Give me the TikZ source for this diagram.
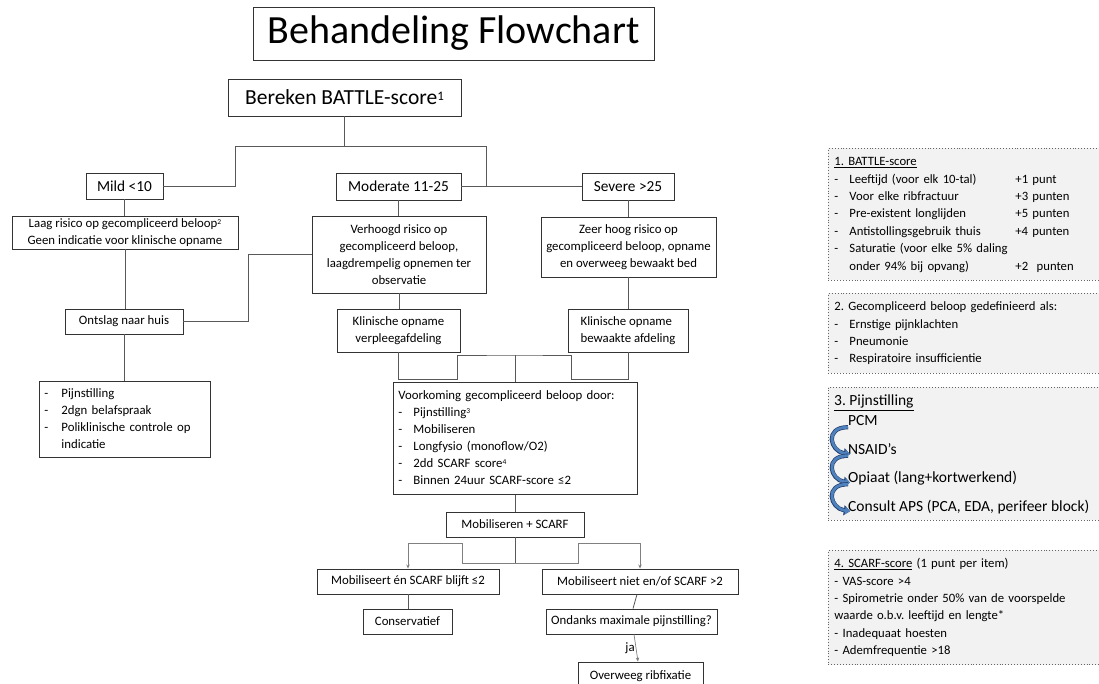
\documentclass[tikz,border=0pt]{standalone}
\usepackage{fontspec}
\setmainfont{Carlito}
\usetikzlibrary{arrows.meta,calc}
\frenchspacing

\definecolor{painblue}{RGB}{79,129,189}
\definecolor{painedge}{RGB}{35,62,110}

\newcommand{\dashitem}[2][15pt]{\makebox[#1][l]{-}#2}
\newcommand{\pointsitem}[2]{\dashitem{\makebox[166pt][l]{#1}#2}}
\newcommand{\notenr}[1]{\raisebox{2.8pt}{\fontsize{7.5}{8}\selectfont#1}}

\begin{document}
\begin{tikzpicture}
    [x=1pt, y=-1pt,
    flowbox/.style={draw=black!80, line width=0.9pt, fill=white, inner sep=0pt, align=center,
        font=\fontsize{12.8}{17}\selectfont},
    bigbox/.style={flowbox, font=\fontsize{15.3}{18}\selectfont},
    listbox/.style={flowbox, anchor=north west, inner xsep=5pt, inner ysep=4pt, align=left},
    legendbox/.style={draw=black!60, dotted, line width=0.9pt, fill=black!5, anchor=north west,
        inner xsep=6pt, inner ysep=5pt, text width=265pt, align=left,
        font=\fontsize{12.7}{17.4}\selectfont},
    painitem/.style={anchor=base west, inner sep=0pt, font=\fontsize{15.5}{19}\selectfont},
    conn/.style={draw=black!65, line width=0.8pt},
    arrconn/.style={draw=black!50, line width=0.7pt, -{Stealth[length=4pt,width=3.5pt]}},
    painarrow/.style={draw=painblue, line width=2.8pt, -{Triangle[length=5pt,width=8pt]},
        preaction={draw=painedge, line width=4.2pt, -{Triangle[length=6.2pt,width=10pt]}}}
    ]
    \clip (0,0) rectangle (1099,684);
    \fill[white] (0,0) rectangle (1099,684);

    % title and score
    \node[flowbox, minimum width=401pt, minimum height=53pt, font=\fontsize{40}{44}\selectfont]
        (title) at (453.5,33.5) {Behandeling Flowchart};
    \node[flowbox, minimum width=233pt, minimum height=37pt, font=\fontsize{21.5}{24}\selectfont]
        (bereken) at (344.5,97.5) {Bereken BATTLE-score{\fontsize{13}{14}\selectfont\raisebox{4pt}{1}}};

    % three groups
    \node[bigbox, minimum width=77pt, minimum height=26pt] (mild) at (124.5,186) {Mild <10};
    \node[bigbox, minimum width=125pt, minimum height=27pt] (moderate) at (398.5,186.5) {Moderate 11-25};
    \node[bigbox, minimum width=92pt, minimum height=27pt] (severe) at (628,186.5) {Severe >25};

    \node[flowbox, minimum width=226pt, minimum height=33pt] (laag) at (125,232.5)
        {Laag risico op gecompliceerd beloop\notenr{2}\\Geen indicatie voor klinische opname};
    \node[flowbox, minimum width=174pt, minimum height=77pt] (verhoogd) at (399,254.5)
        {Verhoogd risico op\\gecompliceerd beloop,\\laagdrempelig opnemen ter\\observatie};
    \node[flowbox, minimum width=175pt, minimum height=60pt] (zeerhoog) at (628.5,247)
        {Zeer hoog risico op\\gecompliceerd beloop, opname\\en overweeg bewaakt bed};

    \node[flowbox, minimum width=118pt, minimum height=25pt] (ontslag) at (124,321.5) {Ontslag naar huis};
    \node[flowbox, minimum width=123pt, minimum height=43pt] (verpleeg) at (398.5,330.5)
        {Klinische opname\\verpleegafdeling};
    \node[flowbox, minimum width=120pt, minimum height=43pt, align=left] (bewaakt) at (628,330.5)
        {Klinische opname\\bewaakte afdeling};

    \node[listbox, text width=161pt] (thuislijst) at (39,381) {\begin{tabular}{@{}l@{}}
        \dashitem[17pt]{Pijnstilling}\\
        \dashitem[17pt]{2dgn belafspraak}\\
        \dashitem[17pt]{Poliklinische controle op}\\
        \hspace*{17pt}indicatie
    \end{tabular}};
    \node[listbox, text width=234pt, inner ysep=5pt] (voorkoming) at (393,382) {\begin{tabular}{@{}l@{}}
        Voorkoming gecompliceerd beloop door:\\
        \dashitem{Pijnstilling\notenr{3}}\\
        \dashitem{Mobiliseren}\\
        \dashitem{Longfysio (monoflow/O2)}\\
        \dashitem{2dd SCARF score\notenr{4}}\\
        \dashitem{Binnen 24uur SCARF-score ≤2}
    \end{tabular}};

    \node[flowbox, minimum width=138pt, minimum height=25pt] (mobscarf) at (515,524.5) {Mobiliseren + SCARF};
    \node[flowbox, minimum width=182pt, minimum height=25pt] (okbox) at (408,581.5) {Mobiliseert én SCARF blijft ≤2};
    \node[flowbox, minimum width=196pt, minimum height=25pt] (nokbox) at (640,581.5) {Mobiliseert niet en/of SCARF >2};
    \node[flowbox, minimum width=89pt, minimum height=25pt] (conserv) at (407.5,621.5) {Conservatief};
    \node[flowbox, minimum width=171pt, minimum height=25pt] (ondanks) at (631.5,621.5) {Ondanks maximale pijnstilling?};
    \node[flowbox, minimum width=125pt, minimum height=28pt] (ribfix) at (640.5,676) {Overweeg ribfixatie};

    % connectors
    \coordinate (splitA) at (344.5,146);
    \coordinate (bendA) at (235,146);
    \coordinate (joinMS) at (486,186.5);
    \draw[conn] (bereken.south) -- (splitA) -- (bendA) |- (mild.east);
    \draw[conn] (moderate.east) -- (severe.west);
    \draw[conn] (splitA) -| (joinMS);
    \draw[conn] (mild.south) -- (mild.south |- laag.north);
    \draw[conn] (moderate.south) -- (moderate.south |- verhoogd.north);
    \draw[conn] (severe.south) -- (severe.south |- zeerhoog.north);
    \draw[conn] (laag.south) -- (laag.south |- ontslag.north);
    \draw[conn] (ontslag.east) -- ++(65,0) |- (verhoogd.west);
    \draw[conn] (ontslag.south) -- (ontslag.south |- thuislijst.north);
    \draw[conn] (verhoogd.south) -- (verhoogd.south |- verpleeg.north);
    \draw[conn] (zeerhoog.south) -- (zeerhoog.south |- bewaakt.north);

    \coordinate (kbL) at (457,379);
    \coordinate (kbR) at (571,379);
    \coordinate (ktop) at (515,355);
    \draw[conn] (verpleeg.south) |- (kbL) |- (ktop) -| (kbR) -| (bewaakt.south);
    \draw[conn] (ktop) -- (voorkoming.north -| ktop);
    \draw[conn] (voorkoming.south -| mobscarf.north) -- (mobscarf.north);

    \coordinate (msplit) at (515,563);
    \coordinate (mL) at (462,563);
    \coordinate (mR) at (578,563);
    \coordinate (mLup) at (462,543);
    \coordinate (mRup) at (578,543);
    \draw[conn] (mobscarf.south) -- (msplit);
    \draw[arrconn] (msplit) -- (mL) -- (mLup) -| (okbox.north);
    \draw[arrconn] (msplit) -- (mR) -- (mRup) -| (nokbox.north);
    \draw[conn] (okbox.south) -- (okbox.south |- conserv.north);
    \draw[conn] ([xshift=-3pt]nokbox.south) -- ([xshift=1.5pt]ondanks.north);
    \draw[arrconn] ([xshift=2.5pt]ondanks.south) -- node[left, inner sep=1pt, font=\fontsize{12.8}{15}\selectfont] {ja}
        ([xshift=-2.5pt]ribfix.north);

    % legend
    \node[legendbox] (battle) at (828,148) {\begin{tabular}{@{}l@{}}
        \underline{1. BATTLE-score}\\
        \pointsitem{Leeftijd (voor elk 10-tal)}{+1 punt}\\
        \pointsitem{Voor elke ribfractuur}{+3 punten}\\
        \pointsitem{Pre-existent longlijden}{+5 punten}\\
        \pointsitem{Antistollingsgebruik thuis}{+4 punten}\\
        \dashitem{Saturatie (voor elke 5\% daling}\\
        \hspace*{15pt}\makebox[166pt][l]{onder 94\% bij opvang)}+2~~punten
    \end{tabular}};
    \node[legendbox] (beloop) at (828,293) {\begin{tabular}{@{}l@{}}
        2. Gecompliceerd beloop gedefinieerd als:\\
        \dashitem{Ernstige pijnklachten}\\
        \dashitem{Pneumonie}\\
        \dashitem{Respiratoire insufficientie}
    \end{tabular}};
    \node[legendbox, minimum width=280pt, minimum height=133pt, text width=, inner sep=0pt] (painbox) at (828,387) {};
    \node[painitem] (paintitle) at (834,405.7) {\underline{3. Pijnstilling}};
    \node[painitem] (pcm) at (848,425.7) {PCM};
    \node[painitem] (nsaid) at (848,454.2) {NSAID’s};
    \node[painitem] (opiaat) at (848,482.7) {Opiaat (lang+kortwerkend)};
    \node[painitem] (consult) at (848,511.2) {Consult APS (PCA, EDA, perifeer block)};
    \foreach \a/\b in {pcm/nsaid, nsaid/opiaat, opiaat/consult}
        \draw[painarrow] ([shift={(0,1.5)}]\a.base west) .. controls +(-24,0) and +(-20,-3) .. ([shift={(2,0)}]\b.base west);
    \node[legendbox] (scarf) at (828,550) {\begin{tabular}{@{}l@{}}
        \underline{4. SCARF-score} (1 punt per item)\\
        - VAS-score >4\\
        - Spirometrie onder 50\% van de voorspelde\\
        waarde o.b.v. leeftijd en lengte*\\
        - Inadequaat hoesten\\
        - Ademfrequentie >18
    \end{tabular}};
\end{tikzpicture}
\end{document}
